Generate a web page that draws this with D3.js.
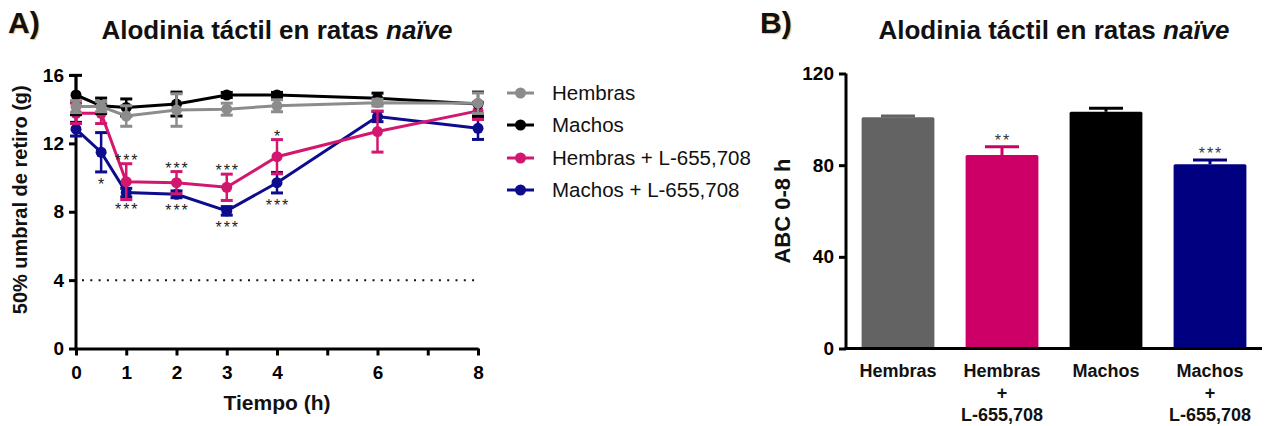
<!DOCTYPE html>
<html>
<head>
<meta charset="utf-8">
<script src="https://cdn.jsdelivr.net/npm/d3@7"></script>
<style>
  html, body { margin: 0; padding: 0; background: #fff; }
  svg { display: block; font-family: "Liberation Sans", Arial, Helvetica, sans-serif; }
</style>
</head>
<body>
<svg id="chart" width="1266" height="426"></svg>
<script>
// ---------- Data: panel A (time course) ----------
const times = [0, 0.5, 1, 2, 3, 4, 6, 8];
const xTickValues = [0, 1, 2, 3, 4, 5, 6, 7, 8];
const xTickLabels = ["0", "1", "2", "3", "4", "", "6", "", "8"];
const yTicksA = [0, 4, 8, 12, 16];
const seriesNames = ["Hembras", "Machos", "Hembras + L-655,708", "Machos + L-655,708"];
const hembrasMean = [14.15, 14.15, 13.6, 13.95, 14.0, 14.2, 14.38, 14.35];
const hembrasSem  = [0.35, 0.3, 0.6, 0.95, 0.35, 0.35, 0.2, 0.6];
const machosMean  = [14.83, 14.2, 14.1, 14.3, 14.83, 14.83, 14.64, 14.3];
const machosSem   = [1.15, 0.45, 0.5, 0.7, 0.15, 0.15, 0.3, 0.7];
const hembrasLMean = [13.76, 13.76, 9.76, 9.7, 9.43, 11.22, 12.69, 13.9];
const hembrasLSem  = [0.6, 0.6, 1.05, 0.65, 0.77, 1.0, 1.2, 0.5];
const machosLMean  = [12.83, 11.48, 9.12, 9.02, 8.05, 9.7, 13.57, 12.88];
const machosLSem   = [0.4, 1.15, 0.25, 0.2, 0.25, 0.6, 0.3, 0.65];
const sigAbovePink = ["", "", "***", "***", "***", "*", "", ""];
const sigBelowNavy = ["", "*", "***", "***", "***", "***", "", ""];
const thresholdValue = 4;

// ---------- Data: panel B (area under curve) ----------
const barCategories = ["Hembras", "Hembras + L-655,708", "Machos", "Machos + L-655,708"];
const barLabelLines = [["Hembras"], ["Hembras", "+", "L-655,708"], ["Machos"], ["Machos", "+", "L-655,708"]];
const barValues = [100.9, 84.4, 103.3, 80.4];
const barSem    = [0.6, 3.6, 1.5, 1.9];
const barSig    = ["", "**", "", "***"];
const yTicksB = [0, 40, 80, 120];

// ---------- Styling ----------
const lineColors = ["#8c8c8c", "#000000", "#d3176f", "#0c0c8c"];
const barColors  = ["#636363", "#cc0066", "#000000", "#000080"];

const svg = d3.select("#chart");

// ================= Panel A =================
const xA = d3.scaleLinear().domain([0, 8]).range([76, 478]);
const yA = d3.scaleLinear().domain([0, 16]).range([348.5, 75]);

svg.append("text").attr("x", 8).attr("y", 33)
  .attr("font-size", 30).attr("font-weight", "bold").attr("fill", "#111")
  .style("text-shadow", "1px 1px 1px rgba(230,140,40,0.6)")
  .text("A)");
function title(x) {
  const t = svg.append("text").attr("x", x).attr("y", 39)
    .attr("text-anchor", "middle").attr("font-size", 26).attr("font-weight", "bold").attr("fill", "#111");
  t.append("tspan").text("Alodinia táctil en ratas ");
  t.append("tspan").attr("font-style", "italic").text("naïve");
}
title(277);

// threshold dotted line
svg.append("line")
  .attr("x1", xA(0) + 6).attr("x2", xA(8))
  .attr("y1", yA(thresholdValue)).attr("y2", yA(thresholdValue))
  .attr("stroke", "#111").attr("stroke-width", 2).attr("stroke-dasharray", "2,6.3");

// axes
const yAxisA = d3.axisLeft(yA).tickValues(yTicksA).tickSize(7).tickSizeOuter(0).tickPadding(5);
const gyA = svg.append("g").attr("transform", `translate(${xA(0)},0)`).call(yAxisA);
const xAxisA = d3.axisBottom(xA).tickValues(xTickValues).tickSize(7).tickSizeOuter(0).tickPadding(6)
  .tickFormat((d, i) => xTickLabels[i]);
const gxA = svg.append("g").attr("transform", `translate(0,${yA(0)})`).call(xAxisA);
[gyA, gxA].forEach(g => {
  g.select(".domain").attr("stroke", "#000").attr("stroke-width", 3);
  g.selectAll(".tick line").attr("stroke", "#000").attr("stroke-width", 3);
  g.selectAll(".tick text").attr("fill", "#000").attr("font-size", 19).attr("font-weight", "bold")
    .attr("font-family", "'Liberation Sans', Arial, sans-serif");
});
gxA.selectAll(".tick text").attr("dy", "0.9em");
gyA.select(".domain").attr("d", `M0,${yA(16)}V${yA(0) + 1.5}`);

// axis titles
svg.append("text").attr("transform", `translate(27,${(yA(0) + yA(16)) / 2 - 12}) rotate(-90)`)
  .attr("text-anchor", "middle").attr("font-size", 20).attr("font-weight", "bold").attr("fill", "#111")
  .text("50% umbral de retiro (g)");
svg.append("text").attr("x", 277).attr("y", 410).attr("text-anchor", "middle")
  .attr("font-size", 21).attr("font-weight", "bold").attr("fill", "#111").text("Tiempo (h)");

// series
const means = [hembrasMean, machosMean, hembrasLMean, machosLMean];
const sems = [hembrasSem, machosSem, hembrasLSem, machosLSem];
const drawOrder = [3, 2, 1, 0];
const line = d3.line().x(d => xA(d.t)).y(d => yA(d.m));
drawOrder.forEach(s => {
  const pts = times.map((t, i) => ({ t, m: means[s][i], e: sems[s][i] }));
  const g = svg.append("g");
  g.append("path").datum(pts).attr("d", line).attr("fill", "none")
    .attr("stroke", lineColors[s]).attr("stroke-width", 3);
  const eb = g.selectAll(".eb").data(pts).enter().append("g");
  eb.append("line").attr("x1", d => xA(d.t)).attr("x2", d => xA(d.t))
    .attr("y1", d => yA(d.m - d.e)).attr("y2", d => yA(d.m + d.e))
    .attr("stroke", lineColors[s]).attr("stroke-width", 2.5);
  [-1, 1].forEach(sg => {
    eb.append("line").attr("x1", d => xA(d.t) - 6).attr("x2", d => xA(d.t) + 6)
      .attr("y1", d => yA(d.m + sg * d.e)).attr("y2", d => yA(d.m + sg * d.e))
      .attr("stroke", lineColors[s]).attr("stroke-width", 3);
  });
  g.selectAll("circle").data(pts).enter().append("circle")
    .attr("cx", d => xA(d.t)).attr("cy", d => yA(d.m)).attr("r", 5.5)
    .attr("fill", lineColors[s]);
});

// significance marks
times.forEach((t, i) => {
  if (sigAbovePink[i]) {
    svg.append("text").attr("x", xA(t) + 1).attr("y", yA(hembrasLMean[i] + hembrasLSem[i]) + 2)
      .attr("text-anchor", "middle").attr("font-size", 16).attr("fill", "#222")
      .attr("letter-spacing", 2).text(sigAbovePink[i]);
  }
  if (sigBelowNavy[i]) {
    svg.append("text").attr("x", xA(t) + 1).attr("y", yA(machosLMean[i] - machosLSem[i]) + 18)
      .attr("text-anchor", "middle").attr("font-size", 16).attr("fill", "#222")
      .attr("letter-spacing", 2).text(sigBelowNavy[i]);
  }
});

// legend
const legY = [93, 125, 158, 190];
seriesNames.forEach((name, i) => {
  const g = svg.append("g");
  g.append("line").attr("x1", 507).attr("x2", 534).attr("y1", legY[i]).attr("y2", legY[i])
    .attr("stroke", lineColors[i]).attr("stroke-width", 3);
  g.append("circle").attr("cx", 520.5).attr("cy", legY[i]).attr("r", 5.5).attr("fill", lineColors[i]);
  g.append("text").attr("x", 552).attr("y", legY[i] + 7).attr("font-size", 20.5)
    .attr("fill", "#111").text(name);
});

// ================= Panel B =================
const xB = d3.scaleBand().domain(barCategories).range([846, 1262]).paddingInner(0.3).paddingOuter(0.15);
const yB = d3.scaleLinear().domain([0, 120]).range([348.5, 73.5]);

svg.append("text").attr("x", 760).attr("y", 33)
  .attr("font-size", 30).attr("font-weight", "bold").attr("fill", "#111")
  .style("text-shadow", "1px 1px 1px rgba(230,140,40,0.6)")
  .text("B)");
title(1054);

barCategories.forEach((c, i) => {
  const x0 = xB(c), w = xB.bandwidth(), cx = x0 + w / 2;
  svg.append("rect").attr("x", x0).attr("y", yB(barValues[i])).attr("width", w)
    .attr("height", yB(0) - yB(barValues[i])).attr("fill", barColors[i]).attr("rx", 1.5);
  const top = yB(barValues[i] + barSem[i]);
  svg.append("line").attr("x1", cx).attr("x2", cx).attr("y1", yB(barValues[i])).attr("y2", top)
    .attr("stroke", barColors[i]).attr("stroke-width", 3);
  svg.append("line").attr("x1", cx - 17).attr("x2", cx + 17).attr("y1", top).attr("y2", top)
    .attr("stroke", barColors[i]).attr("stroke-width", 3);
  if (barSig[i]) {
    svg.append("text").attr("x", cx + 1).attr("y", top - 1).attr("text-anchor", "middle")
      .attr("font-size", 16).attr("fill", "#333").attr("letter-spacing", 2).text(barSig[i]);
  }
  barLabelLines[i].forEach((ln, k) => {
    svg.append("text").attr("x", cx).attr("y", 377 + k * 22).attr("text-anchor", "middle")
      .attr("font-size", 18).attr("font-weight", "bold").attr("fill", "#111").text(ln);
  });
});

const yAxisB = d3.axisLeft(yB).tickValues(yTicksB).tickSize(7).tickSizeOuter(0).tickPadding(5);
const gyB = svg.append("g").attr("transform", `translate(846,0)`).call(yAxisB);
gyB.select(".domain").attr("stroke", "#000").attr("stroke-width", 3).attr("d", `M0,${yB(120)}V${yB(0) + 1.5}`);
gyB.selectAll(".tick line").attr("stroke", "#000").attr("stroke-width", 3);
gyB.selectAll(".tick text").attr("fill", "#000").attr("font-size", 19).attr("font-weight", "bold")
  .attr("font-family", "'Liberation Sans', Arial, sans-serif");
svg.append("line").attr("x1", 844.5).attr("x2", 1262).attr("y1", yB(0)).attr("y2", yB(0))
  .attr("stroke", "#000").attr("stroke-width", 3);

svg.append("text").attr("transform", `translate(790,211) rotate(-90)`)
  .attr("text-anchor", "middle").attr("font-size", 22).attr("font-weight", "bold").attr("fill", "#111")
  .text("ABC 0-8 h");
</script>
</body>
</html>
